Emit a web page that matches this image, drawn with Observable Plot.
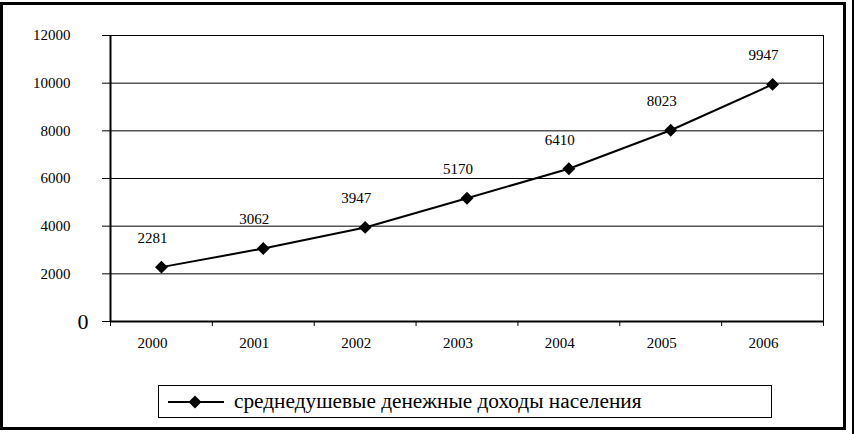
<!DOCTYPE html>
<html>
<head>
<meta charset="utf-8">
<script src="https://cdn.jsdelivr.net/npm/d3@7"></script>
<script src="https://cdn.jsdelivr.net/npm/@observablehq/plot@0.6"></script>
<style>
  html, body { margin: 0; padding: 0; background: #fff; }
  #wrap { position: relative; width: 858px; height: 434px; overflow: hidden; background: #fff; font-family: 'Liberation Serif'; }
  #chart { position: absolute; left: 0; top: 0; }
  #chart svg, #chart svg text { font-family: 'Liberation Serif' !important; }
  #frame { position: absolute; left: 0; top: 2px; width: 846px; height: 428px; box-sizing: border-box; border: 3px solid #000; }
  #thin { position: absolute; left: 852px; top: 0; width: 2px; height: 434px; background: #000; }
  #legend { position: absolute; left: 158px; top: 385px; width: 614px; height: 33px; box-sizing: border-box; border: 1px solid #000; display: flex; align-items: center; padding-left: 9px; }
  #legend span { font-family: 'Liberation Serif'; font-size: 21.3px; color: #000; margin-left: 10px; white-space: nowrap; }
</style>
</head>
<body>
<div id="wrap">
  <div id="chart"></div>
  <div id="frame"></div>
  <div id="thin"></div>
  <div id="legend"></div>
</div>
<script>
const years = [2000, 2001, 2002, 2003, 2004, 2005, 2006];
const incomes = [2281, 3062, 3947, 5170, 6410, 8023, 9947];
const yTicks = [0, 2000, 4000, 6000, 8000, 10000, 12000];
const seriesName = "среднедушевые денежные доходы населения";

const data = years.map((year, i) => ({year, value: incomes[i]}));
const boundaries = [years[0] - 0.5, ...years.map(y => y + 0.5)];

const chart = Plot.plot({
  width: 858,
  height: 370,
  marginLeft: 110,
  marginRight: 35,
  marginTop: 35,
  marginBottom: 49,
  style: {fontFamily: "'Liberation Serif'", fontSize: "15px", color: "#000", background: "transparent"},
  x: {domain: [years[0] - 0.5, years[years.length - 1] + 0.5]},
  y: {domain: [yTicks[0], yTicks[yTicks.length - 1]]},
  marks: [
    Plot.ruleY(yTicks.filter(d => d > 0 && d < 12000), {stroke: "#000", strokeWidth: 1}),
    Plot.frame({stroke: "#000", strokeWidth: 1}),
    Plot.axisY({ticks: yTicks.filter(d => d > 0), tickSize: 8, tickPadding: 32, tickFormat: d => String(d), fontSize: 15, label: null}),
    Plot.axisY({ticks: [0], tickSize: 8, tickPadding: 14, tickFormat: d => String(d), fontSize: 22, label: null}),
    Plot.axisX({ticks: boundaries, tickSize: 5, tickFormat: () => "", label: null}),
    Plot.axisX({ticks: years, tickSize: 0, tickPadding: 16, dx: -9, tickFormat: d => String(d), fontSize: 15, label: null}),
    Plot.ruleX([boundaries[0]], {stroke: "#000", strokeWidth: 2}),
    Plot.ruleY([0], {stroke: "#000", strokeWidth: 2}),
    Plot.line(data, {x: "year", y: "value", stroke: "#000", strokeWidth: 2}),
    Plot.dot(data, {x: "year", y: "value", symbol: "diamond2", r: 5.8, fill: "#000", stroke: "none"}),
    Plot.text(data, {x: "year", y: "value", text: d => String(d.value), dx: -9, dy: -29, fontSize: 15, fill: "#000"})
  ]
});
document.getElementById("chart").appendChild(chart);

// legend: line with diamond marker + series name
const legend = document.getElementById("legend");
const sw = d3.create("svg").attr("width", 56).attr("height", 16);
sw.append("line").attr("x1", 0).attr("x2", 56).attr("y1", 8).attr("y2", 8).attr("stroke", "#000").attr("stroke-width", 2);
sw.append("path").attr("transform", "translate(27,8)").attr("d", d3.symbol(d3.symbolDiamond2, Math.PI * 5.8 * 5.8)()).attr("fill", "#000");
legend.appendChild(sw.node());
const span = document.createElement("span");
span.textContent = seriesName;
legend.appendChild(span);
</script>
</body>
</html>
